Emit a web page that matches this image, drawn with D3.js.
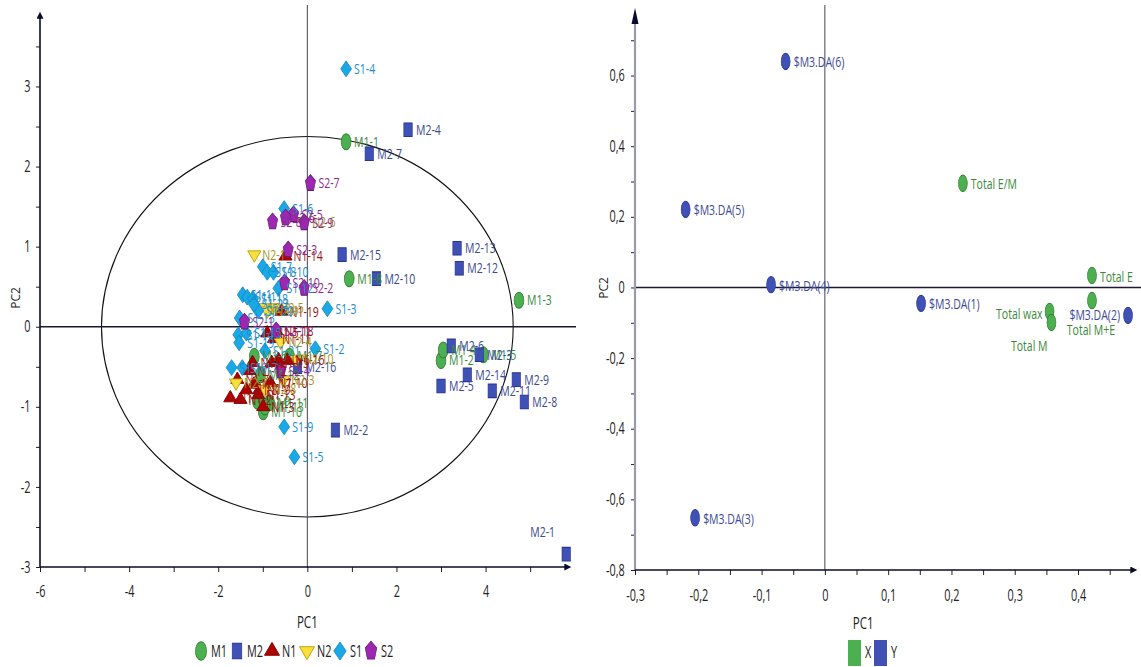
<!DOCTYPE html>
<html>
<head>
<meta charset="utf-8">
<script src="https://cdn.jsdelivr.net/npm/d3@7"></script>
<style>
  body { margin: 0; background: #fff; }
  svg { display: block; }
  text { font-family: "Open Sans", "DejaVu Sans", sans-serif; }
</style>
</head>
<body>
<div id="chart"></div>
<script>
// ---- scores plot (left) : [label, PC1, PC2]
const M1 = [
  ["M1-1", 0.87, 2.31], ["M1-2", 3.0, -0.42], ["M1-3", 4.75, 0.33], ["M1-4", 3.05, -0.29],
  ["M1-5", 3.95, -0.35], ["M1-6", -1.19, -0.37], ["M1-7", -0.40, -0.37], ["M1-8", 0.94, 0.60],
  ["M1-9", -1.12, -0.93], ["M1-10", -0.99, -1.06], ["M1-11", -0.85, -0.95], ["M1-12", -1.05, -0.60],
  ["M1-13", -0.95, -1.0]
];
const M2 = [
  ["M2-1", 5.81, -2.84], ["M2-2", 0.63, -1.29], ["M2-3", 3.86, -0.35], ["M2-4", 2.26, 2.46],
  ["M2-5", 3.0, -0.74], ["M2-6", 3.23, -0.24], ["M2-7", 1.39, 2.16], ["M2-8", 4.87, -0.94],
  ["M2-9", 4.69, -0.66], ["M2-10", 1.55, 0.60], ["M2-11", 4.15, -0.80], ["M2-12", 3.41, 0.73],
  ["M2-13", 3.36, 0.98], ["M2-14", 3.59, -0.60], ["M2-15", 0.78, 0.90], ["M2-16", -0.22, -0.50]
];
const N1 = [
  ["N1-1", -1.73, -0.89], ["N1-2", -1.5, -0.91], ["N1-3", -0.99, -1.0], ["N1-4", -1.23, -0.45],
  ["N1-5", -0.9, -0.08], ["N1-6", -0.65, -0.41], ["N1-7", -1.57, -0.66], ["N1-8", -1.37, -0.79],
  ["N1-9", -1.08, -0.79], ["N1-10", -0.83, -0.70], ["N1-11", -0.75, -0.15], ["N1-12", -1.30, -0.55],
  ["N1-13", -1.1, -0.85], ["N1-14", -0.49, 0.88], ["N1-15", -0.8, -0.45], ["N1-16", -0.45, -0.42],
  ["N1-17", -1.2, -0.72], ["N1-18", -0.7, -0.05], ["N1-19", -0.58, 0.19]
];
const N2 = [
  ["N2-1", -1.19, 0.90], ["N2-2", -1.08, 0.24], ["N2-3", -0.54, -0.66], ["N2-4", -0.6, -0.19],
  ["N2-5", -0.78, 0.24], ["N2-6", -0.07, 1.31], ["N2-7", -1.6, -0.70], ["N2-8", -0.95, -0.78],
  ["N2-9", -0.9, 0.20], ["N2-10", -0.25, -0.40]
];
const S1 = [
  ["S1-1", -1.45, 0.40], ["S1-2", 0.18, -0.275], ["S1-3", 0.45, 0.225], ["S1-4", 0.87, 3.22],
  ["S1-5", -0.29, -1.625], ["S1-6", -0.52, 1.475], ["S1-7", -1.0, 0.75], ["S1-8", -0.9, 0.68],
  ["S1-9", -0.52, -1.25], ["S1-10", -0.76, 0.68], ["S1-11", -1.35, 0.37], ["S1-12", -0.65, 0.48],
  ["S1-13", -1.52, 0.11], ["S1-14", -1.55, -0.1], ["S1-15", -1.37, -0.08], ["S1-16", -1.7, -0.51],
  ["S1-17", -1.46, -0.51], ["S1-18", -1.22, 0.35], ["S1-19", -1.53, -0.2], ["S1-20", -1.1, 0.2],
  ["S1-21", -0.95, -0.3], ["S1-22", -1.2, 0.28]
];
const S2 = [
  ["S2-1", -1.41, 0.06], ["S2-2", -0.07, 0.48], ["S2-3", -0.43, 0.96], ["S2-4", -0.6, -0.55],
  ["S2-5", -0.31, 1.40], ["S2-6", -0.49, 1.36], ["S2-7", 0.07, 1.79], ["S2-8", -0.78, 1.31],
  ["S2-9", -0.07, 1.30], ["S2-10", -0.51, 0.55], ["S2-11", -0.7, -0.05]
];
const groupNames = ["M1", "M2", "N1", "N2", "S1", "S2"];
const groupData = [M1, M2, N1, N2, S1, S2];

// ---- loadings plot (right) : [label, PC1, PC2]
const X_VARS = [
  ["Total E/M", 0.218, 0.295], ["Total E", 0.422, 0.034], ["Total M+E", 0.422, -0.037],
  ["Total wax", 0.355, -0.068], ["Total M", 0.358, -0.099]
];
const Y_VARS = [
  ["$M3.DA(6)", -0.062, 0.64], ["$M3.DA(5)", -0.22, 0.221], ["$M3.DA(4)", -0.085, 0.008],
  ["$M3.DA(1)", 0.152, -0.045], ["$M3.DA(2)", 0.479, -0.079], ["$M3.DA(3)", -0.205, -0.652]
];

const leftXTicks = d3.range(-6, 6, 1);
const leftYTicks = d3.range(-3, 3.51, 0.5);
const rightXTicks = d3.range(-6, 10).map(d => d * 0.05);
const rightYTicks = d3.range(-8, 8).map(d => d / 10);

const SQ = 0.75;   // horizontal squeeze of label glyphs
const SQT = 0.68;  // squeeze for tick labels / titles

// custom shapes (half width / half height in px)
const diamond = {
  draw(ctx, size) {
    const h = Math.sqrt(size) * 0.95, w = h * 0.68;
    ctx.moveTo(0, -h); ctx.lineTo(w, 0); ctx.lineTo(0, h); ctx.lineTo(-w, 0); ctx.closePath();
  }
};
const pentagon = {
  draw(ctx, size) {
    const r = Math.sqrt(size / 2.38);
    for (let i = 0; i < 5; i++) {
      const a = -Math.PI / 2 + i * 2 * Math.PI / 5;
      i ? ctx.lineTo(r * Math.cos(a), r * Math.sin(a)) : ctx.moveTo(r * Math.cos(a), r * Math.sin(a));
    }
    ctx.closePath();
  }
};

const style = {
  M1: { fill: "#4caf50", stroke: "#2e7d32", text: "#3a8a3a", sym: d3.symbolCircle, size: 120, sx: 0.8, sy: 1.3 },
  M2: { fill: "#3f51b5", stroke: "#283593", text: "#3b4a92", sym: d3.symbolSquare, size: 110, sx: 0.8, sy: 1.3 },
  N1: { fill: "#b00000", stroke: "#7a0000", text: "#9a1010", sym: d3.symbolTriangle, size: 62, sx: 1.1, sy: 1.1 },
  N2: { fill: "#f7e03c", stroke: "#b89c00", text: "#a8921c", sym: "down", size: 62, sx: 1.1, sy: 1.1 },
  S1: { fill: "#1aa9e6", stroke: "#0d86bd", text: "#1b8ccc", sym: diamond, size: 70, sx: 1, sy: 1 },
  S2: { fill: "#9c27b0", stroke: "#6a1b7a", text: "#8a2a90", sym: pentagon, size: 105, sx: 0.8, sy: 1.3 }
};

function symbolPath(g, k) {
  const s = style[g].sym, size = style[g].size * k;
  return d3.symbol(s === "down" ? d3.symbolTriangle : s, size)();
}
function symbolTransform(g, x, y) {
  const st = style[g];
  const rot = st.sym === "down" ? " rotate(180)" : "";
  return "translate(" + x + "," + y + ") scale(" + st.sx + "," + st.sy + ")" + rot;
}

// squeezed text helper
function label(sel, x, y) {
  return sel.attr("transform", d => "translate(" + x(d) + "," + y(d) + ") scale(" + SQ + ",1)");
}

const width = 1141, height = 667;
const svg = d3.select("#chart").append("svg").attr("width", width).attr("height", height);

const defs = svg.append("defs");
defs.append("marker").attr("id", "arrow").attr("viewBox", "0 0 10 10")
  .attr("refX", 1).attr("refY", 5).attr("markerWidth", 10).attr("markerHeight", 7)
  .attr("markerUnits", "userSpaceOnUse").attr("orient", "auto")
  .append("path").attr("d", "M0,0L10,5L0,10Z").attr("fill", "#0a0a2a");

const decFmt = d3.formatLocale({ decimal: ",", thousands: ".", grouping: [3], currency: ["", ""], minus: "-" }).format(".1f");
const commaFmt = d => Math.abs(d) < 1e-9 ? "0" : decFmt(d);

function styleAxis(a) {
  a.select(".domain").remove();
  a.selectAll("line").attr("stroke", "#222");
  a.selectAll("text").attr("font-size", 16).attr("fill", "#222")
    .attr("transform", "scale(" + SQT + ",1)");
}

// ================= LEFT: scores =================
const lx = d3.scaleLinear().domain([-6, 5.85]).range([40, 568]);
const ly = d3.scaleLinear().domain([-3, 3.93]).range([567, 12]);
const left = svg.append("g");

// Hotelling ellipse
left.append("ellipse")
  .attr("cx", lx(0)).attr("cy", ly(0))
  .attr("rx", lx(4.62) - lx(0)).attr("ry", ly(0) - ly(2.375))
  .attr("fill", "none").attr("stroke", "#111").attr("stroke-width", 1.1);

// zero lines
left.append("line").attr("x1", lx(0)).attr("x2", lx(0)).attr("y1", 5).attr("y2", ly(-3))
  .attr("stroke", "#444455").attr("stroke-width", 1);
left.append("line").attr("x1", lx(-6)).attr("x2", 576).attr("y1", ly(0)).attr("y2", ly(0))
  .attr("stroke", "#1a1a33").attr("stroke-width", 1.6);

// axes
const lxAxis = left.append("g").attr("transform", "translate(0," + ly(-3) + ")")
  .call(d3.axisBottom(lx).tickValues(leftXTicks).tickSize(5).tickPadding(14)
    .tickFormat(d => d % 2 === 0 ? String(d) : ""));
const lyAxis = left.append("g").attr("transform", "translate(" + lx(-6) + ",0)")
  .call(d3.axisLeft(ly).tickValues(leftYTicks).tickSize(4).tickPadding(10)
    .tickFormat(d => Number.isInteger(d) ? String(d) : ""));
styleAxis(lxAxis);
styleAxis(lyAxis);
left.append("line").attr("x1", lx(-6)).attr("x2", 565).attr("y1", ly(-3)).attr("y2", ly(-3))
  .attr("stroke", "#0a0a2a").attr("stroke-width", 1.6).attr("marker-end", "url(#arrow)");
left.append("line").attr("x1", lx(-6)).attr("x2", lx(-6)).attr("y1", ly(-3)).attr("y2", 18)
  .attr("stroke", "#0a0a2a").attr("stroke-width", 1.6).attr("marker-end", "url(#arrow)");

left.append("text").attr("transform", "translate(" + lx(0) + ",628) scale(" + SQT + ",1)")
  .attr("text-anchor", "middle").attr("font-size", 17).attr("fill", "#222").text("PC1");
left.append("text").attr("transform", "translate(20,298) rotate(-90)")
  .attr("text-anchor", "middle").attr("font-size", 12).attr("fill", "#222").text("PC2");

// points and labels
const labelPos = { "M2-1": [-36, -22] };
groupNames.forEach((g, gi) => {
  left.append("g").selectAll("path").data(groupData[gi]).join("path")
    .attr("d", symbolPath(g, 1))
    .attr("transform", d => symbolTransform(g, lx(d[1]), ly(d[2])))
    .attr("fill", style[g].fill).attr("stroke", style[g].stroke).attr("stroke-width", 0.8);
});
groupNames.forEach((g, gi) => {
  const t = left.append("g").selectAll("text").data(groupData[gi]).join("text")
    .attr("dy", "0.36em").attr("font-size", 14).attr("fill", style[g].text)
    .text(d => d[0]);
  label(t,
    d => lx(d[1]) + (labelPos[d[0]] ? labelPos[d[0]][0] : 8),
    d => ly(d[2]) + (labelPos[d[0]] ? labelPos[d[0]][1] : 0));
});

// legend
const legX = [201, 237, 272, 307, 340, 371];
const leg = left.append("g");
groupNames.forEach((g, i) => {
  leg.append("path").attr("d", symbolPath(g, 1.3))
    .attr("transform", symbolTransform(g, legX[i], 651))
    .attr("fill", style[g].fill).attr("stroke", style[g].stroke).attr("stroke-width", 0.8);
  leg.append("text").attr("transform", "translate(" + (legX[i] + 10) + ",651) scale(" + SQT + ",1)")
    .attr("dy", "0.36em").attr("font-size", 16).attr("fill", "#222").text(g);
});

// ================= RIGHT: loadings =================
const rx = d3.scaleLinear().domain([-0.3, 0.49]).range([635, 1135]);
const ry = d3.scaleLinear().domain([-0.8, 0.78]).range([570, 12]);
const right = svg.append("g");

right.append("line").attr("x1", rx(0)).attr("x2", rx(0)).attr("y1", 5).attr("y2", ry(-0.8))
  .attr("stroke", "#444455").attr("stroke-width", 1);
right.append("line").attr("x1", rx(-0.3)).attr("x2", 1141).attr("y1", ry(0)).attr("y2", ry(0))
  .attr("stroke", "#1a1a33").attr("stroke-width", 1.6);

const rxAxis = right.append("g").attr("transform", "translate(0," + ry(-0.8) + ")")
  .call(d3.axisBottom(rx).tickValues(rightXTicks).tickSize(5).tickPadding(15)
    .tickFormat(d => Math.round(d * 100) % 10 === 0 ? commaFmt(d) : ""));
const ryAxis = right.append("g").attr("transform", "translate(" + rx(-0.3) + ",0)")
  .call(d3.axisLeft(ry).tickValues(rightYTicks).tickSize(4).tickPadding(11)
    .tickFormat(d => Math.round(d * 10) % 2 === 0 ? commaFmt(d) : ""));
styleAxis(rxAxis);
styleAxis(ryAxis);
right.append("line").attr("x1", rx(-0.3)).attr("x2", rx(-0.3)).attr("y1", ry(-0.8)).attr("y2", 20)
  .attr("stroke", "#9a9aac").attr("stroke-width", 2.2);
right.append("path").attr("d", "M" + (rx(-0.3) - 3.5) + ",24L" + rx(-0.3) + ",8L" + (rx(-0.3) + 3.5) + ",24Z")
  .attr("fill", "#0a0a2a");
right.append("line").attr("x1", rx(-0.3)).attr("x2", 1131).attr("y1", ry(-0.8)).attr("y2", ry(-0.8))
  .attr("stroke", "#0a0a2a").attr("stroke-width", 1.6).attr("marker-end", "url(#arrow)");

right.append("text").attr("transform", "translate(" + (rx(0.1) - 25) + ",629) scale(" + SQT + ",1)")
  .attr("text-anchor", "middle").attr("font-size", 17).attr("fill", "#222").text("PC1");
right.append("text").attr("transform", "translate(608,288) rotate(-90)")
  .attr("text-anchor", "middle").attr("font-size", 12).attr("fill", "#222").text("PC2");

const varLabelPos = {
  "Total wax": [-7, 2, "end"], "Total M": [-4, 24, "end"], "Total M+E": [-1, 29, "middle"],
  "$M3.DA(2)": [-8, 0, "end"]
};
const varSets = [
  { data: X_VARS, fill: "#4caf50", stroke: "#2e7d32", text: "#3a8a3a" },
  { data: Y_VARS, fill: "#3f51b5", stroke: "#283593", text: "#3b4a9a" }
];
varSets.forEach(s => {
  right.append("g").selectAll("path").data(s.data).join("path")
    .attr("d", d3.symbol(d3.symbolCircle, 100)())
    .attr("transform", d => "translate(" + rx(d[1]) + "," + ry(d[2]) + ") scale(0.8,1.45)")
    .attr("fill", s.fill).attr("stroke", s.stroke).attr("stroke-width", 0.7);
});
varSets.forEach(s => {
  const t = right.append("g").selectAll("text").data(s.data).join("text")
    .attr("text-anchor", d => varLabelPos[d[0]] ? varLabelPos[d[0]][2] : "start")
    .attr("dy", "0.36em").attr("font-size", 14).attr("fill", s.text)
    .text(d => d[0]);
  label(t,
    d => rx(d[1]) + (varLabelPos[d[0]] ? varLabelPos[d[0]][0] : 8),
    d => ry(d[2]) + (varLabelPos[d[0]] ? varLabelPos[d[0]][1] : 1));
});

// legend
const rleg = right.append("g");
[["X", "#4caf50", 848], ["Y", "#3f51b5", 874]].forEach(d => {
  rleg.append("rect").attr("x", d[2]).attr("y", 640).attr("width", 13).attr("height", 26).attr("fill", d[1]);
  rleg.append("text").attr("transform", "translate(" + (d[2] + 17) + ",652) scale(" + SQT + ",1)")
    .attr("dy", "0.36em").attr("font-size", 16).attr("fill", "#222").text(d[0]);
});
</script>
</body>
</html>
